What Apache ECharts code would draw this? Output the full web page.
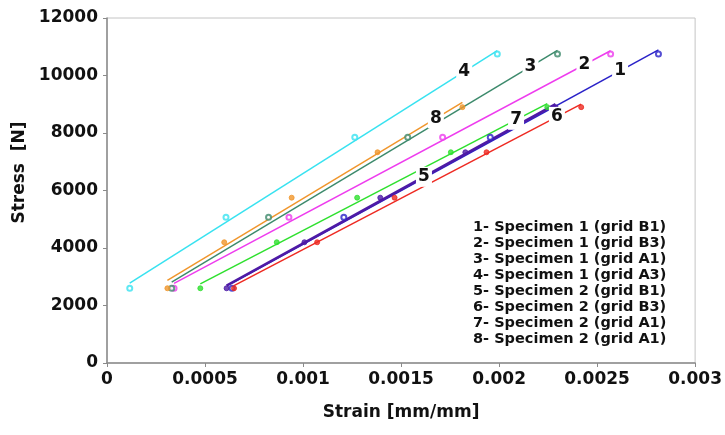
<!DOCTYPE html>
<html>
<head>
<meta charset="utf-8">
<title>Stress - strain</title>
<script src="https://cdn.jsdelivr.net/npm/echarts@6/dist/echarts.min.js"></script>
<style>
  body { margin: 0; padding: 0; background: #fff; }
  #chart { width: 725px; height: 435px; }
</style>
</head>
<body>
<div id="chart"></div>
<script>
  // stress levels of the data points
  var stressSpec1 = [2600, 5070, 7850, 10750];
  var stressSpec2 = [2600, 4200, 5750, 7330, 8900];

  // strain readings, one list per curve
  var strain1 = [0.000638, 0.001208, 0.001955, 0.002813]; // Specimen 1 (grid B1)
  var strain2 = [0.000342, 0.000928, 0.001712, 0.002569]; // Specimen 1 (grid B3)
  var strain3 = [0.000330, 0.000824, 0.001534, 0.002298]; // Specimen 1 (grid A1)
  var strain4 = [0.000116, 0.000607, 0.001264, 0.001991]; // Specimen 1 (grid A3)
  var strain5 = [0.000610, 0.001007, 0.001394, 0.001828, 0.002288]; // Specimen 2 (grid B1)
  var strain6 = [0.000648, 0.001072, 0.001467, 0.001936, 0.002419]; // Specimen 2 (grid B3)
  var strain7 = [0.000476, 0.000866, 0.001276, 0.001754, 0.002246]; // Specimen 2 (grid A1)
  var strain8 = [0.000308, 0.000598, 0.000942, 0.001380, 0.001813]; // Specimen 2 (grid A1)

  var curveNames = [
    '1- Specimen 1 (grid B1)',
    '2- Specimen 1 (grid B3)',
    '3- Specimen 1 (grid A1)',
    '4- Specimen 1 (grid A3)',
    '5- Specimen 2 (grid B1)',
    '6- Specimen 2 (grid B3)',
    '7- Specimen 2 (grid A1)',
    '8- Specimen 2 (grid A1)'
  ];
  var curveTags = ['1', '2', '3', '4', '5', '6', '7', '8'];
  var xTicks = [0, 0.0005, 0.001, 0.0015, 0.002, 0.0025, 0.003];

  var strains = [strain1, strain2, strain3, strain4, strain5, strain6, strain7, strain8];
  var stresses = [stressSpec1, stressSpec1, stressSpec1, stressSpec1,
                  stressSpec2, stressSpec2, stressSpec2, stressSpec2];
  var colors = ['#2a22c8', '#ee3cee', '#3d8a6c', '#38e2f0',
                '#4e1aa6', '#ee2a22', '#2ee02e', '#f0962c'];
  var lineWidths = [1.5, 1.5, 1.5, 1.5, 2.6, 1.5, 1.5, 1.5];
  var tagAt = [0.91, 0.94, 0.93, 0.91, 0.60, 0.93, 0.91, 0.91];

  // least squares trend line over the points of one curve
  function trend(xs, ys) {
    var n = xs.length, mx = 0, my = 0, sxy = 0, sxx = 0;
    for (var i = 0; i < n; i++) { mx += xs[i] / n; my += ys[i] / n; }
    for (var j = 0; j < n; j++) {
      sxy += (xs[j] - mx) * (ys[j] - my);
      sxx += (xs[j] - mx) * (xs[j] - mx);
    }
    var b = sxy / sxx, a = my - b * mx;
    var x0 = Math.min.apply(null, xs), x1 = Math.max.apply(null, xs);
    return [[x0, a + b * x0], [x1, a + b * x1]];
  }

  var series = [];
  for (var k = 0; k < strains.length; k++) {
    var ends = trend(strains[k], stresses[k]);
    var t = tagAt[k];
    var tagPos = [ends[0][0] + t * (ends[1][0] - ends[0][0]),
                  ends[0][1] + t * (ends[1][1] - ends[0][1])];
    series.push({
      type: 'line',
      data: ends,
      showSymbol: false,
      silent: true,
      z: 2,
      lineStyle: { color: colors[k], width: lineWidths[k] },
      markPoint: {
        symbol: 'rect',
        symbolSize: [16, 20],
        itemStyle: { color: '#fff' },
        label: {
          show: true, position: 'inside', color: '#111',
          fontFamily: 'DejaVu Sans', fontWeight: 'bold', fontSize: 17,
          formatter: curveTags[k]
        },
        data: [{ coord: tagPos }]
      }
    });
    var pts = [];
    for (var m = 0; m < strains[k].length; m++) pts.push([strains[k][m], stresses[k][m]]);
    series.push({
      type: 'scatter',
      name: curveNames[k],
      data: pts,
      z: 3,
      symbol: k < 4 ? 'emptyCircle' : 'circle',
      symbolSize: 5,
      itemStyle: { color: colors[k], borderColor: colors[k], borderWidth: 1 }
    });
  }

  var chart = echarts.init(document.getElementById('chart'));
  chart.setOption({
    animation: false,
    backgroundColor: '#fff',
    grid: {
      left: 107, right: 21, top: 18, bottom: 72,
      show: true, borderColor: '#c4c4c4', borderWidth: 1
    },
    xAxis: {
      type: 'value',
      min: 0, max: 0.003, interval: 0.0005,
      name: 'Strain [mm/mm]',
      nameLocation: 'middle',
      nameGap: 41,
      nameTextStyle: { fontFamily: 'DejaVu Sans', fontWeight: 'bold', fontSize: 17, color: '#111' },
      axisLine: { lineStyle: { color: '#8a8a8a', width: 1.5 } },
      axisTick: { show: true, length: 4, lineStyle: { color: '#8a8a8a' } },
      splitLine: { show: false },
      axisLabel: {
        margin: 8, color: '#111',
        fontFamily: 'DejaVu Sans', fontWeight: 'bold', fontSize: 17,
        formatter: function (v) {
          for (var i = 0; i < xTicks.length; i++) {
            if (Math.abs(v - xTicks[i]) < 1e-9) return String(xTicks[i]);
          }
          return '';
        }
      }
    },
    yAxis: {
      type: 'value',
      min: 0, max: 12000, interval: 2000,
      name: 'Stress  [N]',
      nameLocation: 'middle',
      nameGap: 70,
      nameTextStyle: {
        fontFamily: 'DejaVu Sans', fontWeight: 'bold', fontSize: 17, color: '#111',
        padding: [0, 0, 0, 36]
      },
      axisLine: { show: true, lineStyle: { color: '#8a8a8a', width: 1.5 } },
      axisTick: { show: true, length: 4, lineStyle: { color: '#8a8a8a' } },
      splitLine: { show: false },
      axisLabel: {
        margin: 9, color: '#111',
        fontFamily: 'DejaVu Sans', fontWeight: 'bold', fontSize: 17,
        formatter: function (v) { return String(v); }
      }
    },
    graphic: [{
      type: 'text',
      left: 473,
      top: 219,
      z: 10,
      style: {
        text: curveNames.join('\n'),
        fill: '#111',
        font: 'bold 14.5px "DejaVu Sans"',
        lineHeight: 16
      }
    }],
    series: series
  });
</script>
</body>
</html>
